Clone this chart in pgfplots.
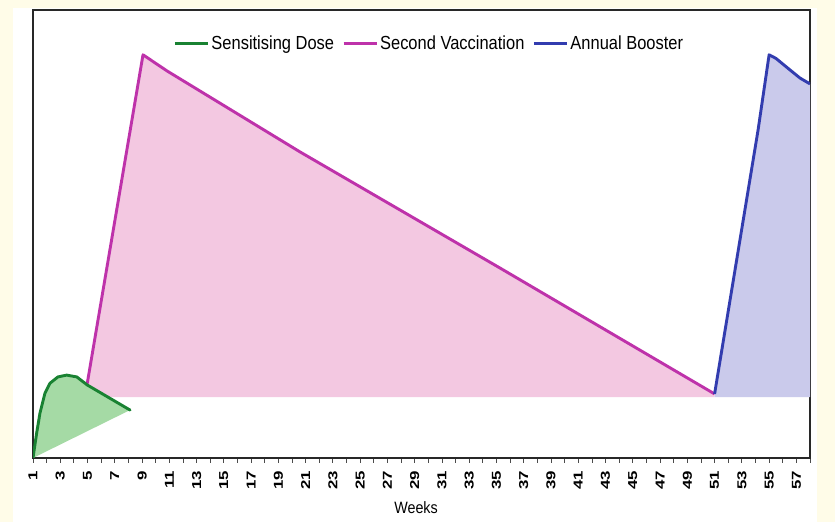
\documentclass[border=0pt]{standalone}
\usepackage{fontspec}
\setmainfont{Liberation Sans}[FakeStretch=0.87]
\newfontfamily\tickfont{Liberation Sans}[FakeStretch=1.3]
\usepackage{pgfplots}
\pgfplotsset{compat=1.18}
\definecolor{gline}{RGB}{25,130,50}
\definecolor{gfill}{RGB}{165,218,165}
\definecolor{pline}{RGB}{190,50,170}
\definecolor{pfill}{RGB}{243,200,225}
\definecolor{bline}{RGB}{50,60,175}
\definecolor{bfill}{RGB}{202,202,235}
\definecolor{cream}{RGB}{255,252,232}
\definecolor{framec}{RGB}{40,40,40}
\begin{document}
\begin{tikzpicture}[x=1bp,y=1bp]
\useasboundingbox (-33,-64) rectangle (802,458);
\fill[cream] (-33,-64) rectangle (802,458);
\fill[white] (-20,-64) rectangle (784,450);
\begin{axis}[
  at={(0,0)}, anchor=south west,
  width=777bp, height=448bp, scale only axis,
  xmin=1, xmax=58, ymin=0, ymax=100,
  xtick={1,3,...,57}, minor xtick={2,4,...,58},
  xtick pos=left, tick align=outside,
  major tick length=5bp, minor tick length=5bp,
  ytick=\empty,
  axis line style={framec, line width=1.6bp},
  every tick/.style={black!70, line width=0.8bp},
  /pgf/number format/assume math mode=true,
  xticklabel shift=6bp,
  xticklabel style={rotate=90, anchor=east, font=\tickfont\bfseries\fontsize{13}{13}\selectfont, inner sep=2bp},
  xlabel={Weeks},
  xlabel style={at={(axis description cs:0.493,0)}, anchor=base, yshift=-56bp, font=\fontsize{16.5}{16.5}\selectfont},
  legend style={at={(0.51,0.926)}, anchor=center, draw=none, fill=none,
    font=\fontsize{19}{19}\selectfont},
  legend columns=-1,
  /tikz/every even column/.append style={column sep=6bp},
  legend image code/.code={\draw[#1, line width=3bp] (0bp,0bp) -- (33bp,0bp);},
]
% fills
\addplot[draw=none, fill=pfill, forget plot] coordinates {
(4.96,16.3) (9.07,90.0) (10.83,86.4) (20.6,68.3) (35.26,42.4) (51,14.3) (51,13.6) (4.96,13.6)} -- cycle;
\addplot[draw=none, fill=bfill, forget plot] coordinates {
(51,14.3) (54.19,73.2) (55.0,90.0) (55.5,89.2) (56.54,86.6) (57.27,84.8) (58,83.5) (58,13.6) (51,13.6)} -- cycle;
\addplot[draw=none, fill=gfill, forget plot] coordinates {
(1,0) (1.27,5.6) (1.51,10.0) (1.88,14.5) (2.25,16.7) (2.83,18.1) (3.47,18.5) (4.21,18.1) (4.98,16.3) (8.12,10.7)} -- cycle;
% lines
\addplot[pline, line width=2.9bp, line join=round, forget plot] coordinates {
(4.96,16.3) (9.07,90.0) (10.83,86.4) (20.6,68.3) (35.26,42.4) (51,14.3)};
\addplot[bline, line width=2.9bp, line join=round, forget plot] coordinates {
(51,14.3) (54.19,73.2) (55.0,90.0) (55.5,89.2) (56.54,86.6) (57.27,84.8) (58,83.5)};
\addplot[gline, line width=2.9bp, line join=round, line cap=round, forget plot] coordinates {
(1,0) (1.27,5.6) (1.51,10.0) (1.88,14.5) (2.25,16.7) (2.83,18.1) (3.47,18.5) (4.21,18.1) (4.98,16.3) (8.12,10.7)};
\addlegendimage{gline}\addlegendentry{Sensitising Dose}
\addlegendimage{pline}\addlegendentry{Second Vaccination}
\addlegendimage{bline}\addlegendentry{Annual Booster}
\end{axis}
\end{tikzpicture}
\end{document}
